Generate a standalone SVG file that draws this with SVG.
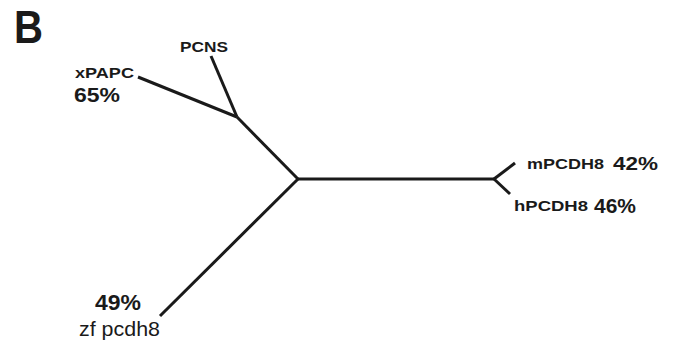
<svg xmlns="http://www.w3.org/2000/svg" width="682" height="344" viewBox="0 0 682 344">
  <style>
    .edge { stroke: #1a1a1a; stroke-width: 3; stroke-linecap: butt; fill: none; }
    .lbl { font-family: "Liberation Sans", Arial, Helvetica, sans-serif; font-weight: bold; fill: #1a1a1a; }
    .pct { font-family: "Liberation Sans", Arial, Helvetica, sans-serif; font-weight: bold; fill: #1a1a1a; }
    .reg { font-family: "Liberation Sans", Arial, Helvetica, sans-serif; font-weight: normal; fill: #1a1a1a; }
  </style>
  <rect width="682" height="344" fill="#ffffff"/>

  <!-- panel letter -->
  <text x="14" y="43" class="lbl" font-size="46" textLength="29" lengthAdjust="spacingAndGlyphs">B</text>

  <!-- tree branches -->
  <g id="connectors">
    <line class="edge" x1="298" y1="179" x2="237" y2="117"/>
    <line class="edge" x1="237" y1="117" x2="138" y2="77"/>
    <line class="edge" x1="237" y1="117" x2="211" y2="56"/>
    <line class="edge" x1="298" y1="179" x2="494" y2="179"/>
    <line class="edge" x1="494" y1="179" x2="515" y2="163"/>
    <line class="edge" x1="494" y1="179" x2="510" y2="194"/>
    <line class="edge" x1="298" y1="179" x2="160" y2="316"/>
  </g>

  <g id="pcns">
    <text x="180" y="52" class="lbl" font-size="15" textLength="48" lengthAdjust="spacingAndGlyphs">PCNS</text>
  </g>

  <g id="xpapc">
    <text x="75" y="78" class="lbl" font-size="14.5" textLength="59" lengthAdjust="spacingAndGlyphs">xPAPC</text>
    <text x="74" y="102" class="pct" font-size="21" textLength="46" lengthAdjust="spacingAndGlyphs">65%</text>
  </g>

  <g id="mpcdh8">
    <text x="527" y="169" class="lbl" font-size="14" textLength="77" lengthAdjust="spacingAndGlyphs">mPCDH8</text>
    <text x="613" y="170" class="pct" font-size="19" textLength="45" lengthAdjust="spacingAndGlyphs">42%</text>
  </g>

  <g id="hpcdh8">
    <text x="514" y="211" class="lbl" font-size="14.5" textLength="74" lengthAdjust="spacingAndGlyphs">hPCDH8</text>
    <text x="594" y="213" class="pct" font-size="20" textLength="42" lengthAdjust="spacingAndGlyphs">46%</text>
  </g>

  <g id="zfpcdh8">
    <text x="95" y="310" class="pct" font-size="22" textLength="46" lengthAdjust="spacingAndGlyphs">49%</text>
    <text x="79" y="336" class="reg" font-size="21" textLength="81" lengthAdjust="spacingAndGlyphs">zf pcdh8</text>
  </g>
</svg>
